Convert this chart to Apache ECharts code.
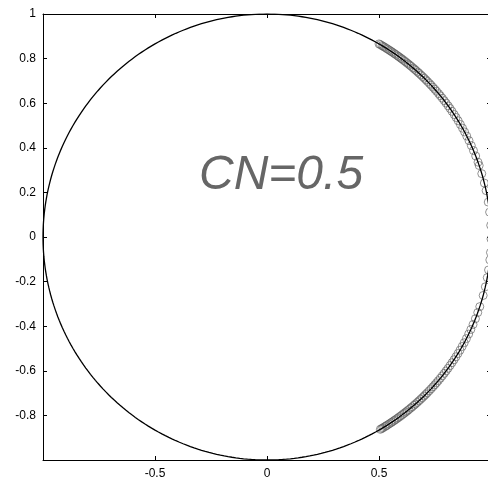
<!DOCTYPE html>
<html>
<head>
<meta charset="utf-8">
<script src="https://cdn.jsdelivr.net/npm/echarts@6/dist/echarts.min.js"></script>
<style>
html,body{margin:0;padding:0;background:#fff;overflow:hidden;}
#main{width:494px;height:480px;}
</style>
</head>
<body>
<div id="main"></div>
<script>
// 采样点所在角度（度）
var upperAngles=[60,59.6,59.1,58.7,58.3,57.8,57.4,56.9,56.5,56.1,55.6,55.2,54.7,54.2,53.8,53.3,52.9,52.4,51.9,51.4,
  50.9,50.4,49.9,49.3,48.8,48.3,47.7,47.2,46.6,46,45.4,44.8,44.2,43.5,42.9,42.2,41.5,40.8,40,39.3,
  38.5,37.7,36.9,36,35.2,34.3,33.3,32.4,31.4,30.3,29.2,28.1,26.9,25.6,24.2,22.8,21.3,19.6,18.7,16.5,
  14,12,9,6.4,3];
var lowerAngles=[-0.5,-4,-5.9,-8.5,-10.5,-12.9,-15.2,-18.2,-19.8,-21.5,-23.1,-24.5,-25.8,-27.1,-28.3,-29.4,-30.5,-31.5,-32.5,-33.4,
  -34.3,-35.2,-36.1,-36.9,-37.7,-38.5,-39.3,-40.1,-40.8,-41.5,-42.2,-42.9,-43.6,-44.3,-44.9,-45.5,-46.1,-46.7,-47.3,-47.9,
  -48.5,-49,-49.6,-50.1,-50.7,-51.2,-51.7,-52.2,-52.7,-53.2,-53.7,-54.2,-54.7,-55.2,-55.6,-56.1,-56.5,-57,-57.5,-57.9,
  -58.3,-58.8,-59.2,-59.6];
var xTicks=[-1,-0.5,0,0.5,1];
var yTicks=[-1,-0.8,-0.6,-0.4,-0.2,0,0.2,0.4,0.6,0.8,1];
var label='CN=0.5';

function toXY(a){
	var r=a*Math.PI/180;
	return [Math.cos(r),Math.sin(r)];
}
var points=upperAngles.concat(lowerAngles).map(toXY);

// 单位圆
var circle=[];
for(var d=0;d<=360;d+=1){circle.push(toXY(d));}

var myChart=echarts.init(document.getElementById('main'));
var tickStyle={show:true,inside:true,length:4,lineStyle:{color:'#000',width:1}};
var lineStyle={show:true,onZero:false,lineStyle:{color:'#000',width:1}};
var option={
	animation:false,
	backgroundColor:'#fff',
	textStyle:{fontFamily:'Liberation Sans, Arial, sans-serif'},
	grid:{left:43,top:14,right:3,bottom:19,containLabel:false},
	xAxis:[{
		type:'value',min:-1,max:1,interval:0.5,position:'bottom',
		axisLine:lineStyle,axisTick:tickStyle,splitLine:{show:false},
		axisLabel:{color:'#000',fontSize:12,margin:8,
			formatter:function(v){return (v===-1||v===1)?'':String(v);}}
	},{
		type:'value',min:-1,max:1,interval:0.5,position:'top',
		axisLine:lineStyle,axisTick:tickStyle,splitLine:{show:false},axisLabel:{show:false}
	}],
	yAxis:[{
		type:'value',min:-1,max:1,interval:0.2,position:'left',
		axisLine:lineStyle,axisTick:tickStyle,splitLine:{show:false},
		axisLabel:{color:'#000',fontSize:12,margin:7,
			formatter:function(v){
				var s=Math.round(v*10)/10;
				return s===-1?'':String(s);
			}}
	},{
		type:'value',min:-1,max:1,interval:0.2,position:'right',
		axisLine:lineStyle,axisTick:tickStyle,splitLine:{show:false},axisLabel:{show:false}
	}],
	series:[{
		type:'scatter',
		data:points,
		symbol:'circle',
		symbolSize:8,
		itemStyle:{color:'rgba(0,0,0,0)',borderColor:'#555',borderWidth:0.8},
		z:2
	},{
		type:'line',
		data:circle,
		showSymbol:false,
		lineStyle:{color:'#000',width:1.3},
		z:3
	}],
	graphic:[{
		type:'text',
		left:199,
		top:152,
		style:{
			text:label,
			fill:'#666',
			font:'italic 48px "Liberation Sans", Arial, sans-serif'
		}
	}]
};
myChart.setOption(option);
</script>
</body>
</html>
